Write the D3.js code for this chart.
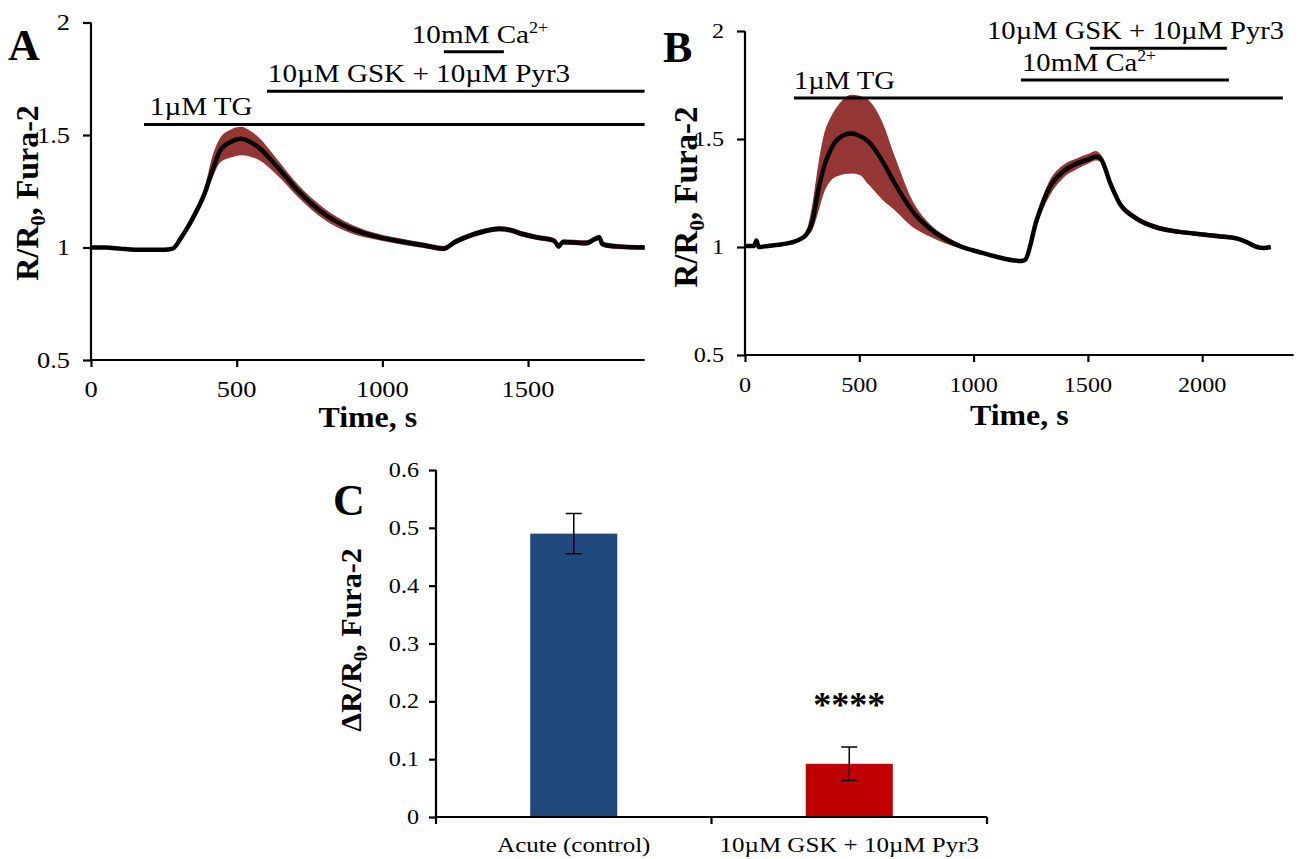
<!DOCTYPE html>
<html><head><meta charset="utf-8">
<script src="https://cdn.jsdelivr.net/npm/d3@7/dist/d3.min.js"></script>
<style>body{margin:0;background:#fff}svg{display:block}text{font-family:"Liberation Serif","Times New Roman",serif;fill:#000}</style>
</head><body>
<svg id="chart" width="1301" height="859"></svg>
<script>
// ---------- Panel A data ----------
const timeA = [0,50,100,150,200,250,280,310,345,390,420,445,480,515,545,575,640,710,800,890,960,1050,1150,1210,1250,1300,1350,1400,1440,1480,1530,1590,1605,1620,1700,1745,1755,1800,1900];
const meanA = [1.0,1.0,0.995,0.99,0.99,0.99,0.995,1.045,1.12,1.24,1.355,1.435,1.47,1.483,1.47,1.445,1.357,1.253,1.15,1.085,1.055,1.03,1.008,0.995,1.025,1.053,1.072,1.083,1.077,1.06,1.045,1.03,1.005,1.025,1.02,1.045,1.015,1.005,1.0];
const lowerA = [0.995,0.995,0.99,0.985,0.985,0.985,0.99,1.035,1.1,1.22,1.32,1.38,1.40,1.41,1.405,1.39,1.32,1.225,1.125,1.065,1.04,1.017,0.996,0.983,1.013,1.041,1.06,1.071,1.065,1.048,1.033,1.018,0.993,1.013,1.008,1.033,1.003,0.993,0.99];
const upperA = [1.005,1.005,1.0,0.995,0.995,0.995,1.0,1.055,1.14,1.27,1.42,1.49,1.525,1.537,1.52,1.49,1.39,1.28,1.175,1.105,1.07,1.043,1.02,1.007,1.037,1.065,1.084,1.095,1.089,1.072,1.057,1.042,1.017,1.037,1.032,1.057,1.027,1.017,1.01];

// ---------- Panel B data ----------
const timeB = [0,40,50,60,100,150,200,240,270,295,320,345,370,410,465,500,540,600,655,730,815,880,950,1020,1100,1210,1225,1276,1334,1392,1451,1500,1535,1555,1600,1640,1700,1815,1900,1960,2050,2150,2190,2240,2270,2300];
const meanB = [1.005,1.005,1.03,1.0,1.005,1.01,1.02,1.035,1.06,1.12,1.26,1.37,1.44,1.503,1.525,1.515,1.488,1.40,1.295,1.17,1.08,1.035,1.0,0.978,0.955,0.935,0.94,1.125,1.279,1.349,1.387,1.405,1.418,1.41,1.29,1.20,1.14,1.086,1.07,1.063,1.052,1.04,1.025,1.0,0.995,1.0];
const lowerB = [0.998,0.998,1.022,0.993,0.998,1.003,1.012,1.027,1.05,1.08,1.16,1.25,1.30,1.33,1.34,1.335,1.29,1.22,1.17,1.095,1.045,1.015,0.99,0.97,0.948,0.928,0.932,1.10,1.24,1.32,1.36,1.385,1.40,1.395,1.275,1.19,1.13,1.075,1.06,1.053,1.042,1.03,1.015,0.992,0.988,0.993];
const upperB = [1.012,1.012,1.037,1.007,1.012,1.017,1.028,1.043,1.08,1.2,1.38,1.52,1.59,1.66,1.705,1.70,1.68,1.58,1.42,1.22,1.10,1.05,1.01,0.985,0.962,0.942,0.948,1.15,1.31,1.38,1.41,1.43,1.445,1.43,1.305,1.215,1.155,1.098,1.08,1.073,1.062,1.05,1.035,1.008,1.002,1.007];

// ---------- Tick labels ----------
const yTicksAB = [0.5,1,1.5,2];
const xTicksA = [0,500,1000,1500];
const xTicksB = [0,500,1000,1500,2000];
const yTicksC = [0,0.1,0.2,0.3,0.4,0.5,0.6];

// ---------- Annotations (treatment bars, data units) ----------
const annoLabelsA = ["1µM TG","10µM GSK + 10µM Pyr3","10mM Ca"];
const annoStartA = [182,604,1211];
const annoEndA = [1900,1900,1417];
const annoLevelA = [1.547,1.695,1.87];
const annoTextA = [202,607,1101];
const annoLabelsB = ["1µM TG","10mM Ca","10µM GSK + 10µM Pyr3"];
const annoStartB = [214,1207,1509];
const annoEndB = [2353,2117,2108];
const annoLevelB = [1.69,1.773,1.92];
const annoTextB = [214,1212,1059];

// ---------- Panel C data ----------
const groupsC = ["Acute (control)","10µM GSK + 10µM Pyr3"];
const valuesC = [0.49,0.092];
const errorsC = [0.035,0.029];
const colorsC = ["#1F497D","#C00000"];
const sigC = ["","****"];

const svg = d3.select("#chart");
const BAND = "#943634";

function txt(g, x, y, s, size, sx, anchor, weight){
  return g.append("text")
    .attr("transform", `translate(${x},${y}) scale(${sx},1)`)
    .attr("text-anchor", anchor||"start")
    .attr("font-size", size)
    .attr("font-weight", weight||"normal")
    .text(s);
}

function tracePanel(cfg){
  const g = svg.append("g");
  const x = d3.scaleLinear().domain(cfg.xdom).range(cfg.xr);
  const y = d3.scaleLinear().domain([0.5,2]).range(cfg.yr);
  const idx = d3.range(cfg.time.length);
  const area = d3.area().curve(d3.curveMonotoneX)
    .x(i=>x(cfg.time[i])).y0(i=>y(cfg.lower[i])).y1(i=>y(cfg.upper[i]));
  g.append("path").datum(idx).attr("d", area).attr("fill", BAND);
  const line = d3.line().curve(d3.curveMonotoneX).x(i=>x(cfg.time[i])).y(i=>y(cfg.mean[i]));
  g.append("path").datum(idx).attr("d", line).attr("fill","none").attr("stroke","#000").attr("stroke-width",4.5).attr("stroke-linejoin","round");

  const ya = d3.axisLeft(y).tickValues(yTicksAB).tickSize(8).tickFormat("");
  const yg = g.append("g").attr("transform",`translate(${cfg.xr[0]},0)`).call(ya);
  const xa = d3.axisBottom(x).tickValues(cfg.xticks).tickSize(7).tickFormat("");
  const xg = g.append("g").attr("transform",`translate(0,${cfg.yr[0]})`).call(xa);
  [yg,xg].forEach(a=>{a.select(".domain").attr("stroke","#000").attr("stroke-width",2.2);
    a.selectAll(".tick line").attr("stroke","#000").attr("stroke-width",2.2);});
  xg.select(".domain").attr("d", `M${cfg.xr[0]},0H${cfg.xr[1]}`);
  yg.select(".domain").attr("d", `M0,${cfg.yr[0]}V${cfg.yr[1]}`);
  yTicksAB.forEach(v=>txt(g, cfg.xr[0]-21, y(v)+cfg.tick*0.34, String(v), cfg.tick, cfg.sx, "end"));
  cfg.xticks.forEach(v=>txt(g, x(v), cfg.yr[0]+cfg.tick+cfg.xtOff, String(v), cfg.tick, cfg.sx, "middle"));

  txt(g, (cfg.xr[0]+cfg.xr[1])/2, cfg.yr[0]+cfg.timeOff, "Time, s", 29, 1.1, "middle", "bold");
  const yt = g.append("text").attr("transform",`translate(${cfg.ytx},${cfg.yty}) rotate(-90)`)
    .attr("text-anchor","middle").attr("font-size",cfg.title).attr("font-weight","bold");
  yt.append("tspan").text("R/R");
  yt.append("tspan").attr("font-size",cfg.title*0.65).attr("dy",7).text("0");
  yt.append("tspan").attr("dy",-7).text(", Fura-2");
  txt(g, cfg.letterX, cfg.letterY, cfg.letter, 44, 1, "start", "bold");

  cfg.labels.forEach((lab,i)=>{
    const ly = y(cfg.level[i]);
    g.append("line").attr("x1",x(cfg.start[i])).attr("x2",x(cfg.end[i])).attr("y1",ly).attr("y2",ly)
      .attr("stroke","#000").attr("stroke-width",3);
    const t = txt(g, x(cfg.tstart[i]), ly-9, lab, cfg.anno, cfg.asx, "start");
    if(lab.endsWith("Ca")) t.append("tspan").attr("font-size",cfg.anno*0.62).attr("dy",-cfg.anno*0.38).text("2+");
  });
}

tracePanel({time:timeA, mean:meanA, lower:lowerA, upper:upperA, xdom:[0,1900], xr:[91,644.6], yr:[360,22.5],
  xticks:xTicksA, tick:23, sx:1.15, xtOff:14, timeOff:67, title:32, anno:26, asx:1.12, ytx:38, yty:193, letter:"A", letterX:8, letterY:60,
  labels:annoLabelsA, start:annoStartA, end:annoEndA, level:annoLevelA, tstart:annoTextA});
tracePanel({time:timeB, mean:meanB, lower:lowerB, upper:upperB, xdom:[0,2400], xr:[745,1293.6], yr:[355,31],
  xticks:xTicksB, tick:22, sx:1.1, xtOff:15, timeOff:70, title:33, anno:26, asx:1.1, ytx:697, yty:197, letter:"B", letterX:663, letterY:62,
  labels:annoLabelsB, start:annoStartB, end:annoEndB, level:annoLevelB, tstart:annoTextB});

// ---------- Panel C ----------
(function(){
  const g = svg.append("g");
  const x = d3.scaleBand().domain(groupsC).range([436,987]).padding(0);
  const y = d3.scaleLinear().domain([0,0.6]).range([817,470]);
  const bw = x.bandwidth()*0.316;
  groupsC.forEach((k,i)=>{
    const cx = x(k)+x.bandwidth()/2;
    g.append("rect").attr("x",cx-bw/2).attr("width",bw).attr("y",y(valuesC[i])).attr("height",y(0)-y(valuesC[i])).attr("fill",colorsC[i]);
    const t = y(valuesC[i]+errorsC[i]), b = y(valuesC[i]-errorsC[i]);
    g.append("path").attr("d",`M${cx},${t}V${b}M${cx-8},${t}H${cx+8}M${cx-8},${b}H${cx+8}`).attr("stroke","#000").attr("stroke-width",1.5).attr("fill","none");
    if(sigC[i]) txt(g, cx, y(valuesC[i]+errorsC[i])-30, sigC[i], 36, 1, "middle", "bold");
    txt(g, cx, 852, k, 20, 1.25, "middle");
  });
  const ya = d3.axisLeft(y).tickValues(yTicksC).tickSize(7).tickFormat("");
  const yg = g.append("g").attr("transform","translate(436,0)").call(ya);
  yg.select(".domain").attr("d","M0,817V470");
  const xg = g.append("g");
  xg.append("path").attr("d",`M436,817H987`);
  [436, x(groupsC[1]), 987].forEach(px=>xg.append("path").attr("d",`M${px},817V824`));
  xg.selectAll("path").attr("stroke","#000").attr("stroke-width",2.2).attr("fill","none");
  yg.selectAll(".domain,.tick line").attr("stroke","#000").attr("stroke-width",2.2);
  yTicksC.forEach(v=>txt(g, 419, y(v)+7, v===0?"0":v.toFixed(1), 21, 1.15, "end"));
  const yt = g.append("text").attr("transform","translate(361,640) rotate(-90)")
    .attr("text-anchor","middle").attr("font-size",30).attr("font-weight","bold");
  yt.append("tspan").text("ΔR/R");
  yt.append("tspan").attr("font-size",19).attr("dy",6).text("0");
  yt.append("tspan").attr("dy",-6).text(", Fura-2");
  txt(g, 333, 515, "C", 44, 1, "start", "bold");
})();
</script>
</body></html>
